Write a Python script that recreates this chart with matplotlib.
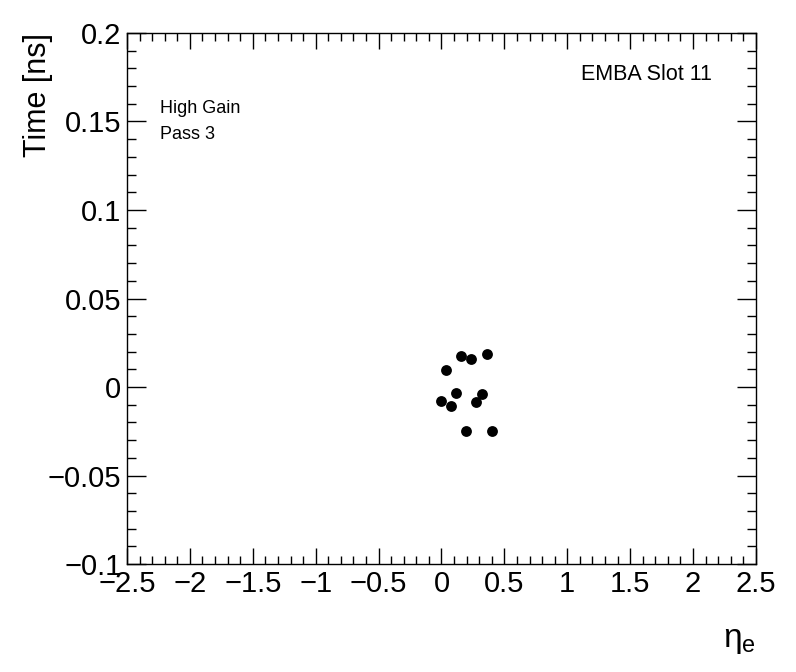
import matplotlib
matplotlib.use("Agg")
import matplotlib.pyplot as plt
from matplotlib.ticker import MultipleLocator, FuncFormatter

# eta and time values
eta = [0.157, 0.237, 0.364, 0.036, 0.118, 0.325, 0.000, 0.078, 0.276, 0.197, 0.401]
time_ns = [0.0173, 0.0158, 0.0186, 0.0096, -0.0036, -0.0042, -0.0079, -0.0106, -0.0087, -0.0251, -0.0251]

plt.rcParams['font.family'] = ['Liberation Sans', 'DejaVu Sans']
plt.rcParams['mathtext.fontset'] = 'custom'
plt.rcParams['mathtext.rm'] = 'Liberation Sans'


def fmt(v, pos):
    s = '%g' % round(v, 4)
    return s.replace('-', '\u2212')


def main():
    fig = plt.figure(figsize=(7.96, 6.72), dpi=100)
    ax = fig.add_axes([0.1595, 0.1607, 0.7902, 0.7902])

    ax.plot(eta, time_ns, 'o', color='black', markersize=7.8, markeredgewidth=0)

    ax.set_xlim(-2.5, 2.5)
    ax.set_ylim(-0.1, 0.2)

    ax.xaxis.set_major_locator(MultipleLocator(0.5))
    ax.xaxis.set_minor_locator(MultipleLocator(0.1))
    ax.yaxis.set_major_locator(MultipleLocator(0.05))
    ax.yaxis.set_minor_locator(MultipleLocator(0.01))
    ax.xaxis.set_major_formatter(FuncFormatter(fmt))
    ax.yaxis.set_major_formatter(FuncFormatter(fmt))

    ax.tick_params(which='both', direction='in', top=True, right=True, width=1, labelsize=21)
    ax.tick_params(axis='x', which='major', length=11.5, pad=4)
    ax.tick_params(axis='x', which='minor', length=5.8)
    ax.tick_params(axis='y', which='major', length=13.5, pad=4)
    ax.tick_params(axis='y', which='minor', length=6.8)
    for sp in ax.spines.values():
        sp.set_linewidth(1)

    ax.set_ylabel('Time [ns]', fontsize=22, loc='top', labelpad=-4)
    ax.set_xlabel(r'$\mathrm{η}_{\mathrm{e}}$', fontsize=24, loc='right', labelpad=20)

    ax.text(0.052, 0.858, 'High Gain', transform=ax.transAxes, fontsize=13, va='center')
    ax.text(0.052, 0.8095, 'Pass 3', transform=ax.transAxes, fontsize=13, va='center')
    ax.text(0.930, 0.922, 'EMBA Slot 11', transform=ax.transAxes, fontsize=15.5, va='center', ha='right')

    plt.savefig('out.png', dpi=100)


if __name__ == '__main__':
    main()
